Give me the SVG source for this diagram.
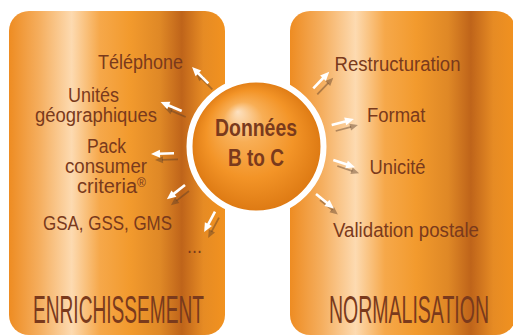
<svg xmlns="http://www.w3.org/2000/svg" xmlns:xlink="http://www.w3.org/1999/xlink" width="513" height="336" viewBox="0 0 513 336">
  <defs>
    <!-- brushed copper look shared by both side panels -->
    <linearGradient id="panelFill" x1="0" y1="0" x2="1" y2="0">
      <stop offset="0" stop-color="#EE8C22"/>
      <stop offset="0.14" stop-color="#F5AE5E"/>
      <stop offset="0.29" stop-color="#FDDAB0"/>
      <stop offset="0.42" stop-color="#F6A84A"/>
      <stop offset="0.56" stop-color="#F29A2D"/>
      <stop offset="0.7" stop-color="#DF8826"/>
      <stop offset="0.8" stop-color="#BF641A"/>
      <stop offset="0.9" stop-color="#E68B24"/>
      <stop offset="1" stop-color="#F2921F"/>
    </linearGradient>
    <radialGradient id="coreFill" cx="0.5" cy="0.5" r="0.5" fx="0.36" fy="0.24">
      <stop offset="0" stop-color="#FDE1C0"/>
      <stop offset="0.3" stop-color="#F8AE55"/>
      <stop offset="0.65" stop-color="#F39427"/>
      <stop offset="1" stop-color="#DC7812"/>
    </radialGradient>
    <!-- arrow drawn along +x, tip at x=23 -->
    <g id="arrowWhite">
      <line x1="0" y1="0" x2="16" y2="0" stroke="#FFFFFF" stroke-width="2.6"/>
      <polygon points="14,-4 23,0 14,4" fill="#FFFFFF"/>
    </g>
    <g id="arrowShade">
      <line x1="0" y1="0" x2="16" y2="0" stroke="#5E3E28" stroke-opacity="0.45" stroke-width="1.8"/>
      <polygon points="15,-3.5 23,0 15,3.5" fill="#5E3E28" fill-opacity="0.45"/>
    </g>
  </defs>
  <style>
    .panel { fill: url(#panelFill); }
    .lbl { font-family: "Liberation Sans", Arial, sans-serif; font-size: 20px; fill: #7A3A1C; }
    .title { font-family: "Liberation Sans", Arial, sans-serif; font-size: 39px; fill: #7A3A1C; }
    .core { font-family: "Liberation Sans", Arial, sans-serif; font-size: 23px; font-weight: bold; fill: #7A3A1C; }
  </style>

  <rect width="513" height="336" fill="#FFFFFF"/>

  <g id="enrichissement">
    <rect class="panel" x="9" y="11" width="216" height="324" rx="20" ry="20"/>
    <!-- condensed title: half-width horizontal scale -->
    <text class="title" transform="translate(33,323) scale(0.5,1)" x="0" y="0" textLength="342" lengthAdjust="spacingAndGlyphs">ENRICHISSEMENT</text>
  </g>

  <g id="normalisation">
    <rect class="panel" x="290" y="11" width="226" height="324" rx="20" ry="20"/>
    <text class="title" transform="translate(329,323) scale(0.5,1)" x="0" y="0" textLength="320" lengthAdjust="spacingAndGlyphs">NORMALISATION</text>
  </g>

  <g id="donnees-b-to-c">
    <circle cx="256.5" cy="146.5" r="67" fill="url(#coreFill)" stroke="#FFFFFF" stroke-width="6"/>
    <text class="core" x="215" y="135.5" textLength="82" lengthAdjust="spacingAndGlyphs">Données</text>
    <text class="core" x="228" y="165.5" textLength="56" lengthAdjust="spacingAndGlyphs">B to C</text>
  </g>

  <g id="telephone">
    <text class="lbl" x="98" y="69" textLength="85" lengthAdjust="spacingAndGlyphs">Téléphone</text>
  </g>
  <g id="unites-geographiques">
    <text class="lbl" x="68" y="101.5" textLength="51" lengthAdjust="spacingAndGlyphs">Unités</text>
    <text class="lbl" x="35" y="121.5" textLength="122" lengthAdjust="spacingAndGlyphs">géographiques</text>
  </g>
  <g id="pack-consumer-criteria">
    <text class="lbl" x="87" y="153" textLength="39" lengthAdjust="spacingAndGlyphs">Pack</text>
    <text class="lbl" x="65" y="173" textLength="82" lengthAdjust="spacingAndGlyphs">consumer</text>
    <text class="lbl" x="77" y="193" textLength="69" lengthAdjust="spacingAndGlyphs">criteria<tspan font-size="12" dy="-6">®</tspan></text>
  </g>
  <g id="gsa-gss-gms">
    <text class="lbl" x="43" y="230" textLength="129" lengthAdjust="spacingAndGlyphs">GSA, GSS, GMS</text>
  </g>
  <g id="autres">
    <text class="lbl" x="187" y="253" textLength="15" lengthAdjust="spacingAndGlyphs">...</text>
  </g>

  <g id="restructuration">
    <text class="lbl" x="334.5" y="71" textLength="126" lengthAdjust="spacingAndGlyphs">Restructuration</text>
  </g>
  <g id="format">
    <text class="lbl" x="367" y="121.5" textLength="58.5" lengthAdjust="spacingAndGlyphs">Format</text>
  </g>
  <g id="unicite">
    <text class="lbl" x="369.5" y="174" textLength="56" lengthAdjust="spacingAndGlyphs">Unicité</text>
  </g>
  <g id="validation-postale">
    <text class="lbl" x="333" y="236.5" textLength="146" lengthAdjust="spacingAndGlyphs">Validation postale</text>
  </g>

  <!-- arrows radiating from the central disc; each has a soft offset shade under it -->
  <g id="connectors">
    <use xlink:href="#arrowShade" transform="translate(212.3,89.3) rotate(225)"/>
    <use xlink:href="#arrowShade" transform="translate(185.7,117) rotate(203.2)"/>
    <use xlink:href="#arrowShade" transform="translate(178,159.3) rotate(178.2)"/>
    <use xlink:href="#arrowShade" transform="translate(189,191) rotate(142)"/>
    <use xlink:href="#arrowShade" transform="translate(219,217.7) rotate(118.1)"/>
    <use xlink:href="#arrowShade" transform="translate(317.3,94.3) rotate(-46.1)"/>
    <use xlink:href="#arrowShade" transform="translate(335.7,131) rotate(-14.8)"/>
    <use xlink:href="#arrowShade" transform="translate(337.3,166) rotate(18.6)"/>
    <use xlink:href="#arrowShade" transform="translate(320,200) rotate(39)"/>

    <use xlink:href="#arrowWhite" transform="translate(208.3,83.3) rotate(225)"/>
    <use xlink:href="#arrowWhite" transform="translate(181.7,111) rotate(203.2)"/>
    <use xlink:href="#arrowWhite" transform="translate(174,153.3) rotate(178.2)"/>
    <use xlink:href="#arrowWhite" transform="translate(185,185) rotate(142)"/>
    <use xlink:href="#arrowWhite" transform="translate(215,211.7) rotate(118.1)"/>
    <use xlink:href="#arrowWhite" transform="translate(313.3,88.3) rotate(-46.1)"/>
    <use xlink:href="#arrowWhite" transform="translate(331.7,125) rotate(-14.8)"/>
    <use xlink:href="#arrowWhite" transform="translate(333.3,160) rotate(18.6)"/>
    <use xlink:href="#arrowWhite" transform="translate(316,194) rotate(39)"/>
  </g>
</svg>
